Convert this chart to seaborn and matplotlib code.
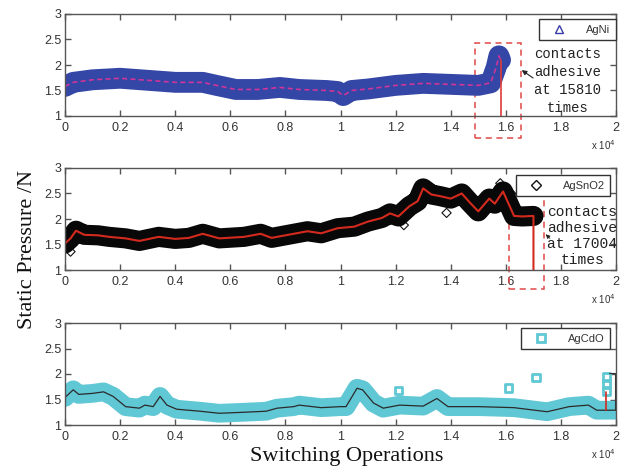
import matplotlib
matplotlib.use("Agg")
import matplotlib.pyplot as plt
import seaborn as sns
from matplotlib.ticker import FuncFormatter
from matplotlib.patches import Rectangle
from matplotlib.lines import Line2D

# ---- data: static pressure (N) versus number of switching operations ----
agni_x = [0, 300, 1000, 2000, 3000, 4000, 5000, 5500, 6200, 7000, 7800, 8500,
          9500, 9900, 10100, 10400, 11000, 12000, 13000, 14000, 15000, 15450,
          15650, 15750, 15810]
agni_y = [1.58, 1.66, 1.71, 1.74, 1.70, 1.66, 1.66, 1.60, 1.52, 1.52, 1.56, 1.52,
          1.50, 1.48, 1.40, 1.50, 1.53, 1.60, 1.64, 1.62, 1.60, 1.65,
          1.95, 2.18, 2.10]
agni_fail = 15810

sno2_x = [0, 200, 400, 700, 1200, 1600, 2200, 2700, 3400, 4000, 4500, 5000, 5600,
          6500, 7100, 7500, 8300, 8800, 9300, 9900, 10500, 11000, 11500, 11800,
          12100, 12500, 12800, 13000, 13300, 13600, 14000, 14400, 14700, 15000,
          15400, 15600, 15900, 16100, 16300, 16600, 17004]
sno2_y = [1.52, 1.62, 1.77, 1.69, 1.68, 1.65, 1.62, 1.57, 1.65, 1.61, 1.63, 1.71, 1.62,
          1.65, 1.71, 1.63, 1.71, 1.76, 1.72, 1.82, 1.85, 1.95, 2.02, 2.11,
          2.05, 2.25, 2.35, 2.60, 2.48, 2.45, 2.40, 2.50, 2.32, 2.15,
          2.40, 2.30, 2.54, 2.30, 2.06, 2.05, 2.06]
sno2_fail = 17004
sno2_out_x = [200, 12300, 13850, 15800, 16200]
sno2_out_y = [1.36, 1.88, 2.12, 2.70, 2.50]

cdo_x = [0, 300, 500, 1000, 1400, 1750, 2200, 2700, 2900, 3200, 3450, 3700, 4050,
         4900, 5600, 6500, 7300, 7700, 8300, 8500, 9300, 10000, 10200, 10600,
         10800, 11200, 11550, 12150, 13000, 13500, 13900, 15000, 16300, 17500,
         18300, 19000, 19300, 19650, 20000]
cdo_y = [1.54, 1.69, 1.60, 1.62, 1.65, 1.56, 1.36, 1.33, 1.39, 1.36, 1.56, 1.39, 1.31,
         1.27, 1.23, 1.25, 1.27, 1.33, 1.36, 1.39, 1.34, 1.36, 1.36, 1.72,
         1.69, 1.43, 1.33, 1.39, 1.37, 1.52, 1.36, 1.36, 1.34, 1.26,
         1.36, 1.39, 1.29, 1.29, 1.29]
cdo_out_x = [12100, 16100, 17100, 19650, 19650, 19650]
cdo_out_y = [1.68, 1.73, 1.93, 1.94, 1.80, 1.67]
cdo_spike_x = [19650, 19650]
cdo_spike_y = [1.29, 1.65]

x_ticks = [0, 2000, 4000, 6000, 8000, 10000, 12000, 14000, 16000, 18000, 20000]
y_ticks = [1, 1.5, 2, 2.5, 3]

sns.set_theme(style="ticks")
plt.rcParams["font.family"] = ["Liberation Sans", "DejaVu Sans"]

fig = plt.figure(figsize=(6.22, 4.69), dpi=100)
left, width, height = 65 / 622, 551 / 622, 102 / 469
ax1 = fig.add_axes([left, 1 - 116 / 469, width, height])
ax2 = fig.add_axes([left, 1 - 270 / 469, width, height])
ax3 = fig.add_axes([left, 1 - 425 / 469, width, height])


def style_axis(ax):
    ax.set_xlim(0, 20000)
    ax.set_ylim(1, 3)
    ax.set_xticks(x_ticks)
    ax.set_yticks(y_ticks)
    ax.xaxis.set_major_formatter(FuncFormatter(lambda v, p: f"{v / 1e4:g}"))
    ax.yaxis.set_major_formatter(FuncFormatter(lambda v, p: f"{v:g}"))
    ax.tick_params(direction="in", top=True, right=True, length=4, width=1,
                   colors="#555555", labelcolor="#333333", labelsize=9)
    ax.tick_params(axis="x", pad=4)
    ax.tick_params(axis="y", pad=2.5)
    for s in ax.spines.values():
        s.set_visible(True)
        s.set_color("#555555")
        s.set_linewidth(1.0)
    ax.set_xlabel("")
    ax.set_ylabel("")
    ax.text(1.0, -0.29, r"x 10$^4$", transform=ax.transAxes, ha="right",
            va="center", fontsize=7, color="#333333")


def add_legend(ax, marker, color, label, anchor, mew=1.0, ms=6):
    h = Line2D([], [], ls="none", marker=marker, markerfacecolor="none",
               markeredgecolor=color, markersize=ms, markeredgewidth=mew)
    leg = ax.legend([h], [label], loc="upper right", bbox_to_anchor=anchor,
                    frameon=True, fancybox=False, framealpha=1, fontsize=8,
                    handlelength=2.5, handletextpad=1.2, borderpad=0.5,
                    borderaxespad=0)
    leg.get_frame().set_edgecolor("#333333")
    leg.get_frame().set_linewidth(1.0)
    for t in leg.get_texts():
        t.set_color("#333333")


# ---- AgNi ----
sns.lineplot(x=agni_x, y=agni_y, ax=ax1, color="#3446a6", linewidth=15,
             estimator=None, sort=False, solid_capstyle="round",
             solid_joinstyle="round")
sns.lineplot(x=agni_x, y=agni_y, ax=ax1, color="#d0359a", linewidth=1.2,
             estimator=None, sort=False, linestyle=(0, (3, 2)))
sns.lineplot(x=[agni_fail, agni_fail], y=[agni_y[-1], 1.0], ax=ax1,
             color="#e03a3a", linewidth=1.2, estimator=None, sort=False)
style_axis(ax1)
add_legend(ax1, "^", "#3a3aa8", "AgNi", (0.9995, 0.948))
ax1.add_patch(Rectangle((14880, 0.575), 16540 - 14880, 2.43 - 0.575, fill=False,
                        ec="#e04848", lw=1.1, ls=(0, (4, 3)), clip_on=False))
ax1.text(18240, 1.69, "contacts\nadhesive\nat 15810\ntimes", ha="center",
         va="center", family="Liberation Mono", fontsize=10, linespacing=1.35,
         color="#222222")
ax1.annotate("", xy=(16580, 1.90), xytext=(16990, 1.745),
             arrowprops=dict(arrowstyle="-|>", color="#222222", lw=0.8,
                             mutation_scale=7, shrinkA=0, shrinkB=0))

# ---- AgSnO2 ----
sns.lineplot(x=sno2_x, y=sno2_y, ax=ax2, color="#080808", linewidth=14.5,
             estimator=None, sort=False, solid_capstyle="round",
             solid_joinstyle="round")
sns.scatterplot(x=sno2_out_x, y=sno2_out_y, ax=ax2, marker="D", s=22,
                facecolor="none", edgecolor="#111111", linewidth=0.8)
sns.lineplot(x=sno2_x + [sno2_fail], y=sno2_y + [1.0], ax=ax2, color="#d42a1e",
             linewidth=1.5, estimator=None, sort=False)
style_axis(ax2)
add_legend(ax2, "D", "#111111", "AgSnO2", (0.990, 0.931), ms=5)
ax2.add_patch(Rectangle((16130, 0.63), 17390 - 16130, 2.48 - 0.63, fill=False,
                        ec="#e04848", lw=1.1, ls=(0, (4, 3)), clip_on=False))
ax2.text(18770, 1.67, "contacts\nadhesive\nat 17004\ntimes", ha="center",
         va="center", family="Liberation Mono", fontsize=10.5, linespacing=1.2,
         color="#222222", clip_on=False)
ax2.annotate("", xy=(17450, 1.70), xytext=(17600, 1.62),
             arrowprops=dict(arrowstyle="-|>", color="#222222", lw=0.6,
                             mutation_scale=6, shrinkA=0, shrinkB=0))

# ---- AgCdO ----
sns.lineplot(x=cdo_x, y=cdo_y, ax=ax3, color="#60c7d4", linewidth=13.5,
             estimator=None, sort=False, solid_capstyle="round",
             solid_joinstyle="round")
sns.scatterplot(x=cdo_out_x, y=cdo_out_y, ax=ax3, marker="s", s=30,
                facecolor="none", edgecolor="#60c7d4", linewidth=2.0)
sns.lineplot(x=cdo_x, y=cdo_y, ax=ax3, color="#2b2b2b", linewidth=0.9,
             estimator=None, sort=False)
sns.lineplot(x=cdo_spike_x, y=cdo_spike_y, ax=ax3, color="#d42a1e",
             linewidth=1.2, estimator=None, sort=False)
ax3.plot([19760, 19960, 19960], [2.01, 2.01, 1.3], color="#333333", lw=0.8)
style_axis(ax3)
add_legend(ax3, "s", "#60c7d4", "AgCdO", (0.989, 0.948), mew=2.0, ms=6)

fig.text(0.044, 0.467, "Static Pressure /N", rotation=90, ha="center",
         va="center", family="Liberation Serif", fontsize=16, color="#111111")
fig.text(0.558, 0.0277, "Switching Operations", ha="center", va="center",
         family="Liberation Serif", fontsize=16, color="#111111")

fig.savefig("out.png", dpi=100)
